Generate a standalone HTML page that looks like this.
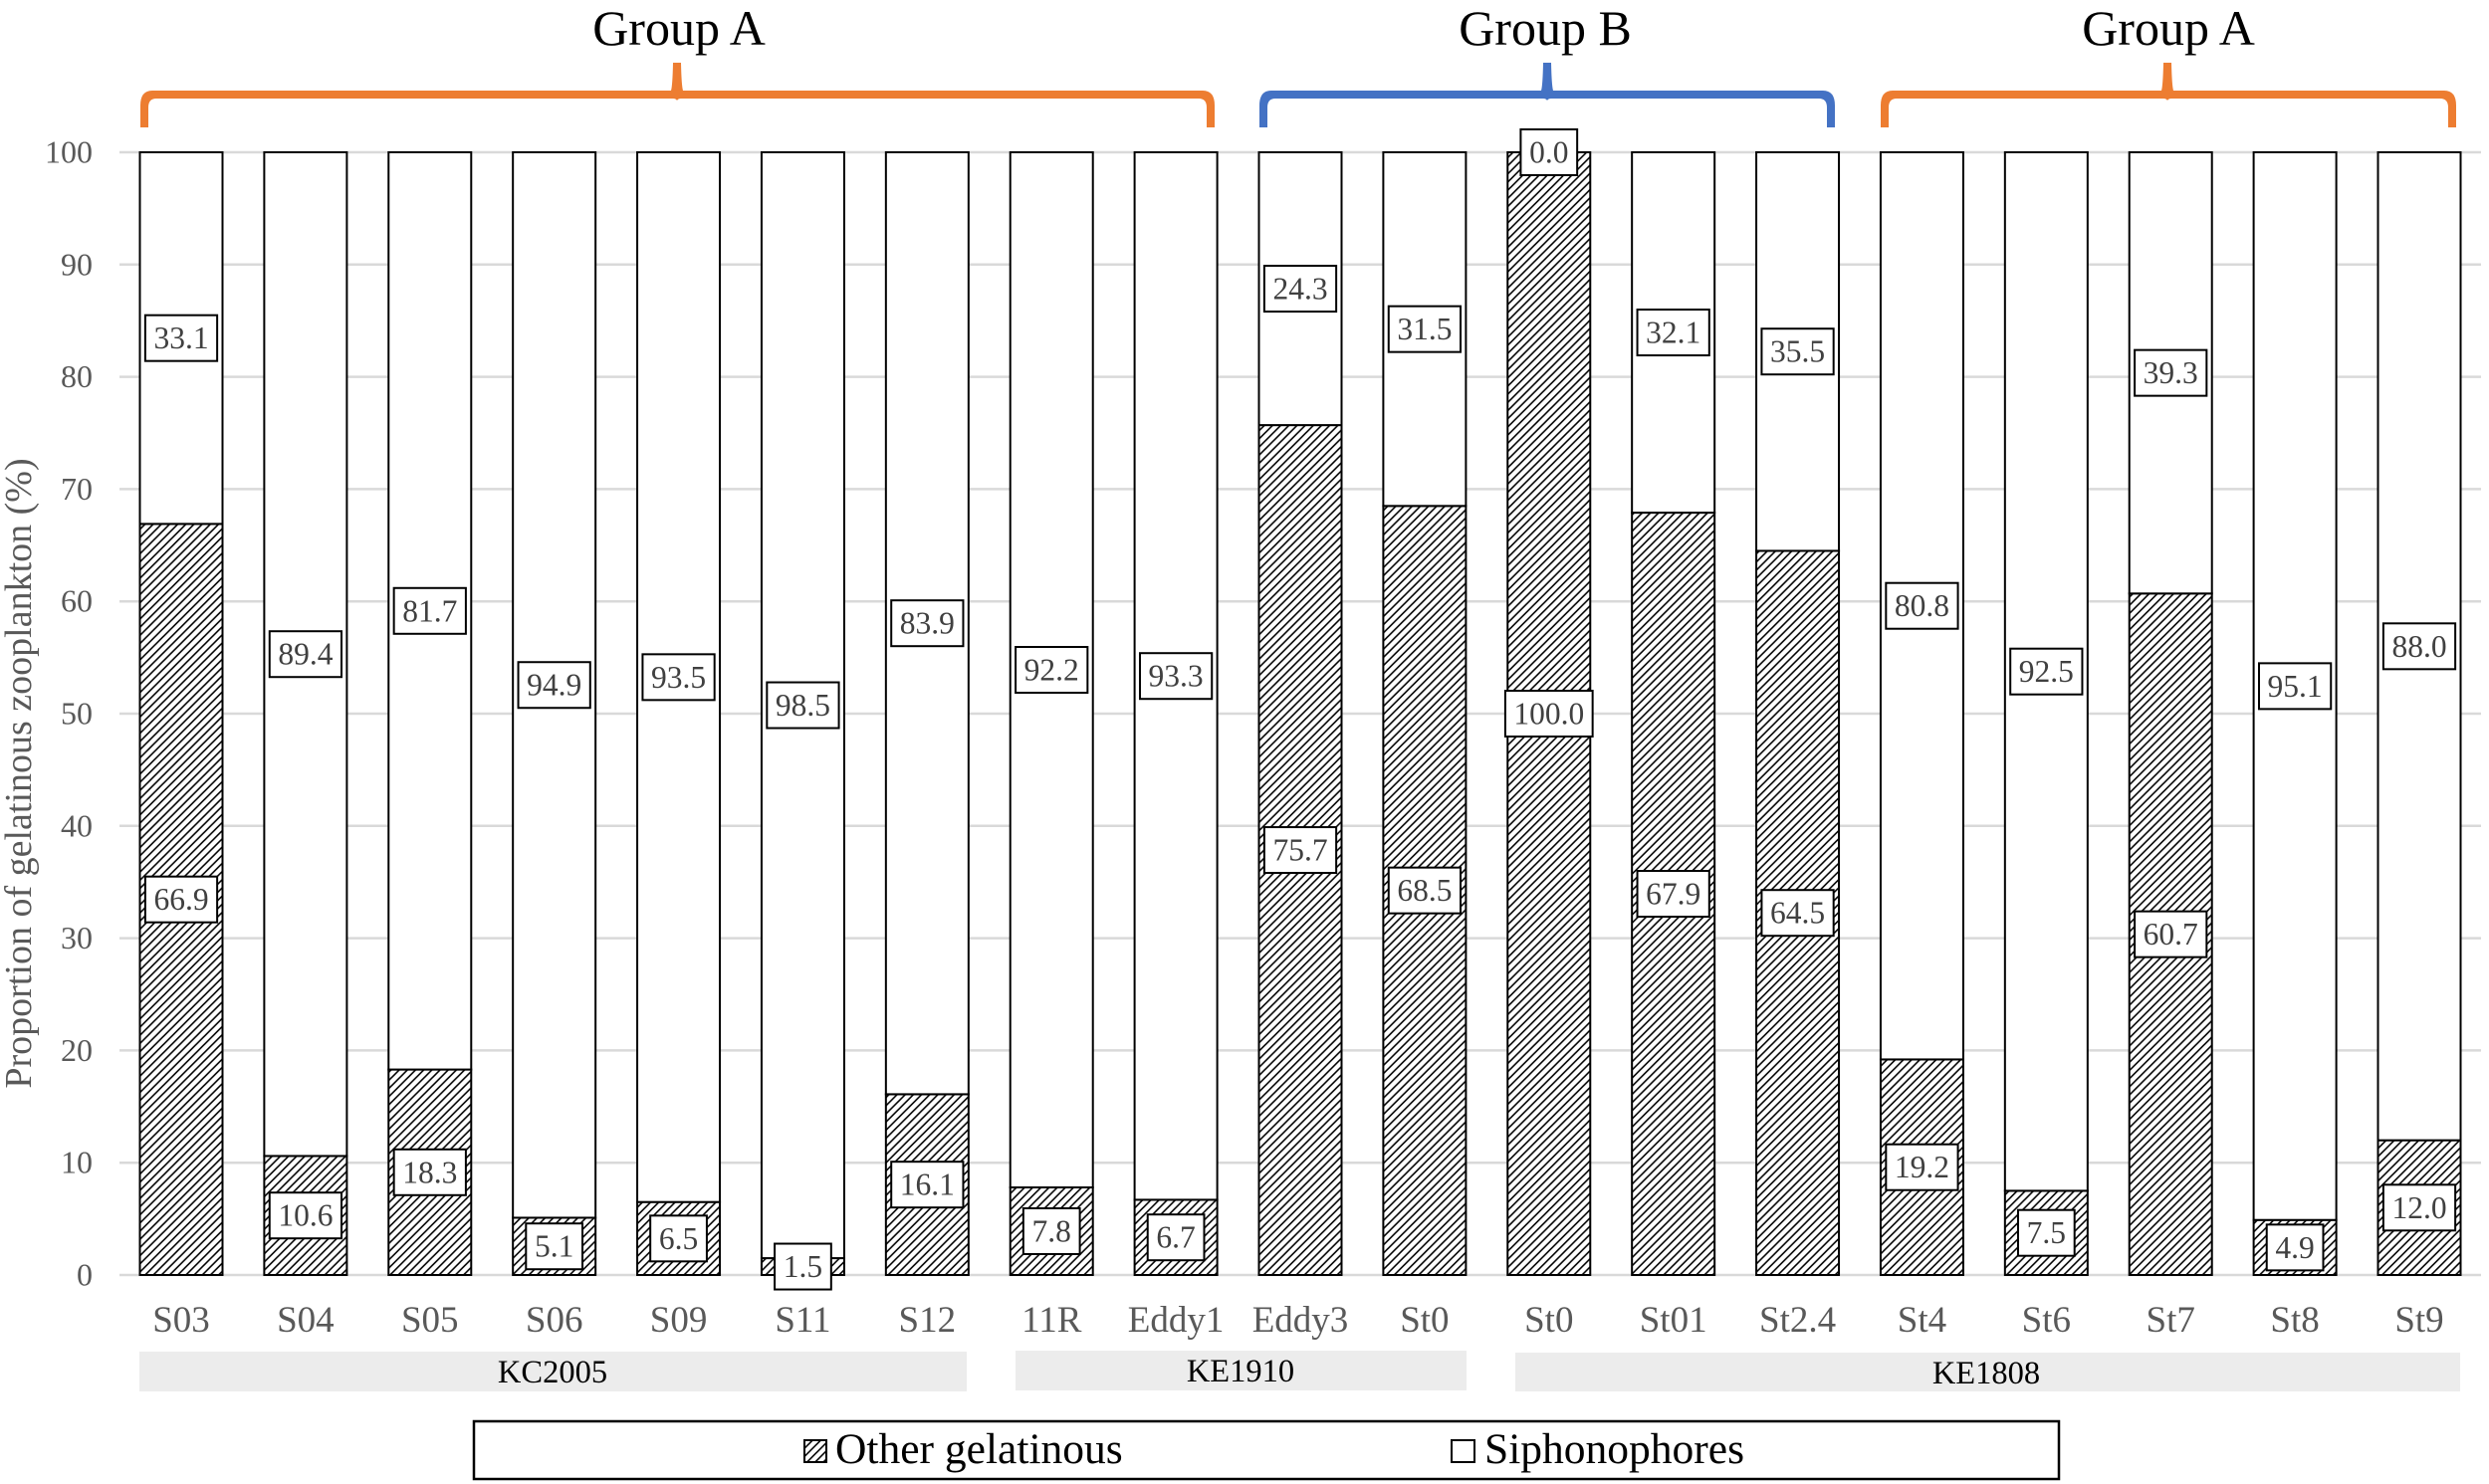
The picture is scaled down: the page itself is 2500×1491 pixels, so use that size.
<!DOCTYPE html>
<html lang="en">
<head>
<meta charset="utf-8">
<title>Proportion of gelatinous zooplankton</title>
<style>
html,body{margin:0;padding:0;background:#fff;}
svg{display:block;font-family:"Liberation Serif",serif;}
</style>
</head>
<body>
<svg id="chart" xmlns="http://www.w3.org/2000/svg" width="2500" height="1491" viewBox="0 0 2500 1491">
  <defs>
    <pattern id="hatch" patternUnits="userSpaceOnUse" width="8.2" height="8.2">
      <rect width="8.2" height="8.2" fill="#fff"/>
      <path d="M-1,1 L1,-1 M0,8.2 L8.2,0 M7.2,9.2 L9.2,7.2" stroke="#000" stroke-width="1.6" fill="none"/>
    </pattern>
  </defs>
  <rect width="2500" height="1491" fill="#fff"/>
  <g id="grid"></g>
  <g id="yticks"></g>
  <g id="bars"></g>
  <g id="labels"></g>
  <g id="xticks"></g>

  <text transform="translate(31,777) rotate(-90)" text-anchor="middle" font-size="38" fill="#595959">Proportion of gelatinous zooplankton (%)</text>

  <path id="bracket-a1" fill="#ed7d31"/>
  <path id="bracket-b" fill="#4472c4"/>
  <path id="bracket-a2" fill="#ed7d31"/>
  <text x="682" y="45" text-anchor="middle" font-size="50" fill="#000">Group A</text>
  <text x="1552" y="45" text-anchor="middle" font-size="50" fill="#000">Group B</text>
  <text x="2178" y="45" text-anchor="middle" font-size="50" fill="#000">Group A</text>

  <g>
    <rect x="140" y="1358" width="831" height="40" fill="#ececec"/>
    <text x="555" y="1389" text-anchor="middle" font-size="32.5" fill="#000">KC2005</text>
  </g>
  <g>
    <rect x="1020" y="1357" width="453" height="40" fill="#ececec"/>
    <text x="1246" y="1388" text-anchor="middle" font-size="32.5" fill="#000">KE1910</text>
  </g>
  <g>
    <rect x="1522" y="1359" width="949" height="39" fill="#ececec"/>
    <text x="1995" y="1390" text-anchor="middle" font-size="32.5" fill="#000">KE1808</text>
  </g>

  <g>
    <rect x="476" y="1428" width="1592" height="58" fill="#fff" stroke="#000" stroke-width="2.5"/>
    <rect x="808" y="1447" width="22" height="22" fill="url(#hatch)" stroke="#000" stroke-width="2"/>
    <text x="839" y="1470" font-size="43.5" fill="#000">Other gelatinous</text>
    <rect x="1458" y="1447" width="23" height="22" fill="#fff" stroke="#000" stroke-width="2"/>
    <text x="1491" y="1470" font-size="43.5" fill="#000">Siphonophores</text>
  </g>
</svg>
<script>
const categories = ["S03","S04","S05","S06","S09","S11","S12","11R","Eddy1","Eddy3","St0","St0","St01","St2.4","St4","St6","St7","St8","St9"];
const otherGelatinous = [66.9,10.6,18.3,5.1,6.5,1.5,16.1,7.8,6.7,75.7,68.5,100.0,67.9,64.5,19.2,7.5,60.7,4.9,12.0];
const siphonophores = [33.1,89.4,81.7,94.9,93.5,98.5,83.9,92.2,93.3,24.3,31.5,0.0,32.1,35.5,80.8,92.5,39.3,95.1,88.0];
const yTickLabels = [0,10,20,30,40,50,60,70,80,90,100];

const NS = "http://www.w3.org/2000/svg";
const yMax = 100, y0 = 1281, y100 = 153;
const firstCenter = 182, lastCenter = 2430, barWidth = 83;
function yScale(v){ return y0 - (v / yMax) * (y0 - y100); }
function xScale(i){ return firstCenter + i * (lastCenter - firstCenter) / (categories.length - 1); }
function make(tag, attrs, parent){
  const el = document.createElementNS(NS, tag);
  for (const k in attrs) el.setAttribute(k, attrs[k]);
  parent.appendChild(el);
  return el;
}
const grid = document.getElementById("grid");
const yticks = document.getElementById("yticks");
const bars = document.getElementById("bars");
const labels = document.getElementById("labels");
const xticks = document.getElementById("xticks");

yTickLabels.forEach(function(t){
  const line = make("line", {x1:120, x2:2492, y1:yScale(t), y2:yScale(t), stroke:"#d9d9d9", "stroke-width":2.5}, grid);
  
  
  const tx = make("text", {x:93, y:yScale(t)+10.5, "text-anchor":"end", "font-size":32, fill:"#595959"}, yticks);
  
  
  tx.textContent = t;
});

function addLabel(cx, cy, value){
  const g = make("g", {}, labels);
  
  
  const box = make("rect", {y:cy-23, height:46, fill:"#fff", stroke:"#000", "stroke-width":2}, g);
  const tx = make("text", {x:cx, y:cy+10.5, "text-anchor":"middle", "font-size":31.5, fill:"#404040"}, g);
  tx.textContent = value.toFixed(1);
  const w = value.toFixed(1).length * 15.5 - 7.75 + 18;
  box.setAttribute("x", cx - w/2);
  box.setAttribute("width", w);
}

categories.forEach(function(name, i){
  const cx = xScale(i);
  const a = otherGelatinous[i], b = siphonophores[i];
  const lower = make("rect", {x:cx-barWidth/2, y:yScale(a), width:barWidth, height:yScale(0)-yScale(a), fill:"url(#hatch)", stroke:"#000", "stroke-width":2}, bars);
  
  
  const upper = make("rect", {x:cx-barWidth/2, y:yScale(a+b), width:barWidth, height:yScale(a)-yScale(a+b), fill:"#fff", stroke:"#000", "stroke-width":2}, bars);
  
  
  const tick = make("text", {x:cx, y:1338, "text-anchor":"middle", "font-size":37, fill:"#595959"}, xticks);
  
  
  tick.textContent = name;
});
categories.forEach(function(name, i){
  const cx = xScale(i);
  const a = otherGelatinous[i], b = siphonophores[i];
  addLabel(cx, yScale(a/2), a);
  addLabel(cx, yScale(a + b/2), b);
});

function bracket(x0, x1, xm){
  return "M"+x0+",128 V106 Q"+x0+",91 "+(x0+12)+",91 H"+(xm-6)+" Q"+(xm-4.5)+",86 "+(xm-4)+",63 H"+(xm+4)+" Q"+(xm+4.5)+",86 "+(xm+6)+",91 H"+(x1-12)+" Q"+x1+",91 "+x1+",106 V128 H"+(x1-8)+" V108 Q"+(x1-8)+",99 "+(x1-16)+",99 H"+(xm+4)+" Q"+(xm+1)+",99 "+xm+",101 Q"+(xm-1)+",99 "+(xm-4)+",99 H"+(x0+16)+" Q"+(x0+8)+",99 "+(x0+8)+",108 V128 Z";
}
document.getElementById("bracket-a1").setAttribute("d", bracket(141, 1220, 680));
document.getElementById("bracket-b").setAttribute("d", bracket(1265, 1843, 1554));
document.getElementById("bracket-a2").setAttribute("d", bracket(1889, 2467, 2177));
</script>
</body>
</html>
